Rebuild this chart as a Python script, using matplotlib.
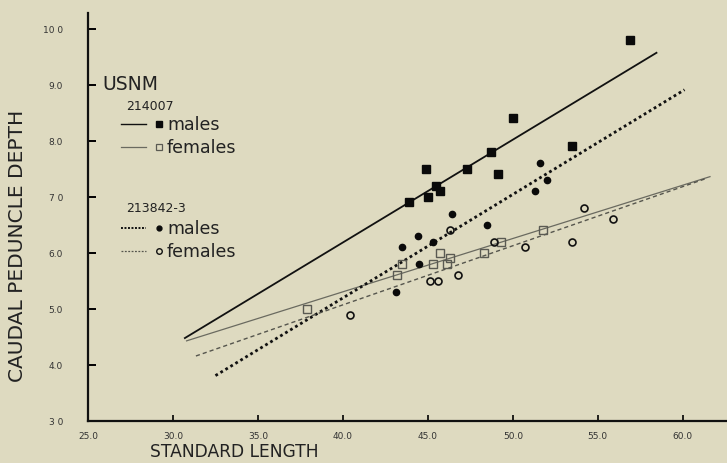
import numpy as np
import matplotlib.pyplot as plt
from matplotlib.lines import Line2D

# data
# USNM 214007
m14_x = [56.9, 50.0, 53.5, 44.9, 47.3, 48.7, 49.1, 45.5, 45.7, 45.0, 43.9]
m14_y = [9.8, 8.4, 7.9, 7.5, 7.5, 7.8, 7.4, 7.2, 7.1, 7.0, 6.9]
f14_x = [37.9, 43.2, 43.5, 45.3, 45.7, 46.1, 46.3, 48.3, 49.3, 51.8]
f14_y = [5.0, 5.6, 5.8, 5.8, 6.0, 5.8, 5.9, 6.0, 6.2, 6.4]
# USNM 213842-3
m13_x = [43.1, 43.5, 44.4, 44.5, 45.3, 46.4, 48.5, 51.3, 51.6, 52.0]
m13_y = [5.3, 6.1, 6.3, 5.8, 6.2, 6.7, 6.5, 7.1, 7.6, 7.3]
f13_x = [40.4, 45.1, 45.6, 46.3, 46.8, 48.9, 50.7, 53.5, 54.2, 55.9]
f13_y = [4.9, 5.5, 5.5, 6.4, 5.6, 6.2, 6.1, 6.2, 6.8, 6.6]

# fitted lines (end points)
fit_m14_x, fit_m14_y = [30.7, 58.45], [4.48, 9.57]
fit_f14_x, fit_f14_y = [30.8, 61.6], [4.43, 7.36]
fit_m13_x, fit_m13_y = [32.5, 60.1], [3.81, 8.91]
fit_f13_x, fit_f13_y = [31.35, 61.4], [4.16, 7.33]

xticks = [25, 30, 35, 40, 45, 50, 55, 60]
xticklabels = ['25.0', '30.0', '35.0', '40.0', '45.0', '50.0', '55.0', '60.0']
yticks = [3, 4, 5, 6, 7, 8, 9, 10]
yticklabels = ['3 0', '4.0', '5.0', '6.0', '7 0', '8.0', '9.0', '10 0']

bg = '#dedac0'
W, H = 727, 464

fig = plt.figure(figsize=(W / 100, H / 100), dpi=100, facecolor=bg)
ax = fig.add_axes([88 / W, 1 - 422 / H, 639 / W, (422 - 14) / H], facecolor=bg)

# regression lines
ax.plot(fit_m14_x, fit_m14_y, color='#111111', lw=1.3)
ax.plot(fit_f14_x, fit_f14_y, color='#6a6a60', lw=0.9)
ax.plot(fit_m13_x, fit_m13_y, color='#111111', lw=2.0, ls=(0, (1.0, 1.1)))
ax.plot(fit_f13_x, fit_f13_y, color='#55554d', lw=1.0, ls=(0, (3, 2.2)))

# points
ax.plot(m14_x, m14_y, 's', color='#0a0a0a', ms=5.5, mec='#0a0a0a')
ax.plot(f14_x, f14_y, 's', mfc='none', mec='#5a5a52', ms=5.5, mew=1.0)
ax.plot(m13_x, m13_y, 'o', color='#0a0a0a', ms=4.5)
ax.plot(f13_x, f13_y, 'o', mfc='none', mec='#111111', ms=5, mew=1.2)

ax.set_xlim(25, 62.6)
ax.set_ylim(3, 10.28)
ax.set_xticks(xticks)
ax.set_xticklabels(xticklabels)
ax.set_yticks(yticks)
ax.set_yticklabels(yticklabels)

for s in ['top', 'right']:
    ax.spines[s].set_visible(False)
for s in ['left', 'bottom']:
    ax.spines[s].set_linewidth(1.6)
    ax.spines[s].set_color('#111111')

ax.tick_params(axis='y', direction='in', length=6, width=1.4, pad=18,
               labelsize=6.5, labelcolor='#333333')
ax.tick_params(axis='x', direction='in', length=4, width=1.2, pad=7,
               labelsize=6.5, labelcolor='#333333')

# axis titles
fig.text(18 / W, 1 - 246 / H, 'CAUDAL PEDUNCLE DEPTH', rotation=90,
         ha='center', va='center', fontsize=14.5, color='#222222')
fig.text(234 / W, 1 - 452 / H, 'STANDARD LENGTH', ha='center', va='center',
         fontsize=12.3, color='#222222')


# legend, drawn by hand in pixel units
def px(x, y):
    return x / W, 1 - y / H


fig.text(*px(102, 84), 'USNM', ha='left', va='center', fontsize=13.5, color='#222222')
fig.text(*px(126, 107), '214007', ha='left', va='center', fontsize=9, color='#222222')
fig.text(*px(126, 209), '213842-3', ha='left', va='center', fontsize=9, color='#222222')

rows = [
    (125, dict(color='#111111', lw=1.0), dict(marker='s', color='#0a0a0a', ms=4), 'males'),
    (148, dict(color='#6a6a60', lw=0.9), dict(marker='s', mfc='none', mec='#5a5a52', ms=4.5, mew=0.9), 'females'),
    (229, dict(color='#111111', lw=1.4, ls=(0, (1.0, 0.8))), dict(marker='o', color='#0a0a0a', ms=3.5), 'males'),
    (252, dict(color='#55554d', lw=0.9, ls=(0, (1.5, 1.2))), dict(marker='o', mfc='none', mec='#111111', ms=4, mew=1.0), 'females'),
]
for y, lstyle, mstyle, label in rows:
    x0, y0 = px(121, y)
    x1, _ = px(146, y)
    fig.add_artist(Line2D([x0, x1], [y0, y0], transform=fig.transFigure, **lstyle))
    mx, my = px(159, y)
    fig.add_artist(Line2D([mx], [my], transform=fig.transFigure, ls='none', **mstyle))
    fig.text(*px(167, y), label, ha='left', va='center', fontsize=12.5, color='#222222')

fig.savefig('out.png', dpi=100, facecolor=bg)
